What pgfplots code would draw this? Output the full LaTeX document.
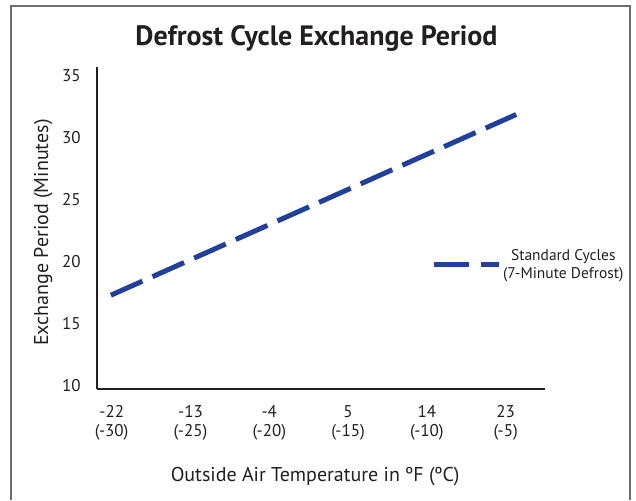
\documentclass[border=0pt]{standalone}
\usepackage{fontspec}
\setmainfont{PT Sans}
\usepackage{pgfplots}
\pgfplotsset{compat=1.18}
\definecolor{ink}{HTML}{231F20}
\definecolor{lineblue}{RGB}{34,64,154}
\definecolor{framegray}{HTML}{6D6E71}
\begin{document}
\begin{tikzpicture}[x=1pt,y=1pt]
\useasboundingbox (0,0) rectangle (636,500);
\draw[framegray, line width=1.5pt] (11,0) -- (11,494) -- (630,494) -- (630,0);
\node[font=\bfseries\fontsize{28}{32}\selectfont, text=ink] at (316.5,462) {Defrost Cycle Exchange Period};
\begin{axis}[
  at={(111,90)}, anchor=south west, scale only axis, width=448pt, height=322pt,
  xmin=-23.66, xmax=27.51, ymin=9.76, ymax=35.77,
  axis lines=left, axis line style={ink, line width=2pt, -},
  xtick={-22,-13,-4,5,14,23},
  xticklabels={{-22\\(-30)},{-13\\(-25)},{-4\\(-20)},{5\\(-15)},{14\\(-10)},{23\\(-5)}},
  ytick={10,15,20,25,30,35},
  major tick length=0pt,
  /pgf/number format/assume math mode=true,
  tick label style={font=\fontsize{17}{19}\selectfont, text=ink},
  x tick label style={align=center, yshift=-13pt},
  y tick label style={xshift=-13pt},
  xlabel={Outside Air Temperature in ºF (ºC)},
  ylabel={Exchange Period (Minutes)},
  label style={font=\fontsize{20}{24}\selectfont, text=ink},
  xlabel style={at={(axis description cs:0.4866,-0.273)}, anchor=center},
  ylabel style={at={(axis description cs:-0.1205,0.4845)}, anchor=center},
  legend style={at={(axis description cs:0.745,0.385)}, anchor=west, draw=none, fill=none, inner sep=0pt,
    font=\fontsize{15.5}{18}\selectfont, text=ink, nodes={align=center}},
  legend image code/.code={\draw[lineblue, line width=5pt, dash pattern=on 35pt off 12pt] (0pt,0pt) -- (65pt,0pt);},
]
\addplot[lineblue, line width=5pt, dash pattern=on 34.6pt off 11pt] coordinates {(-22.1,17.3) (24.2,31.9)};
\addlegendentry{Standard Cycles\\(7-Minute Defrost)}
\end{axis}
\end{tikzpicture}
\end{document}
